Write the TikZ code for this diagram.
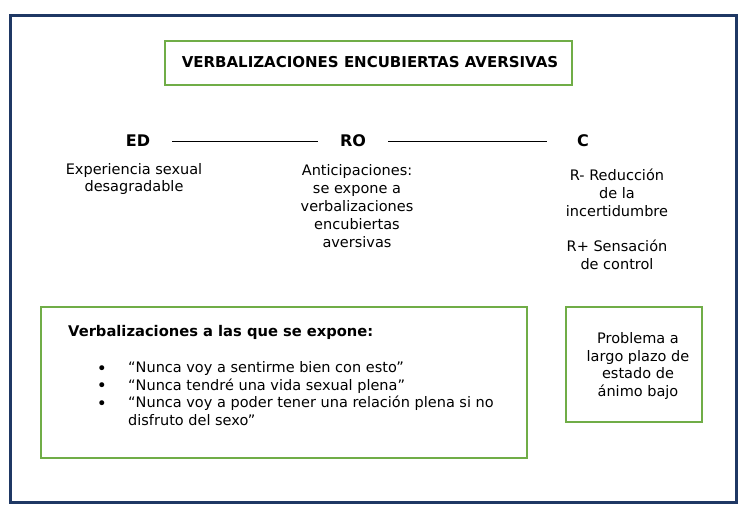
\documentclass[tikz,border=0pt]{standalone}
\usepackage{fontspec}
\setmainfont{DejaVu Sans}
\definecolor{framecol}{RGB}{31,56,100}
\definecolor{boxgreen}{RGB}{112,173,71}
\tikzset{
  txt/.style={font=\fontsize{14.5}{17.8}\selectfont, align=center, inner sep=0pt},
  lbl/.style={font=\bfseries\fontsize{16}{18}\selectfont, inner sep=0pt},
  gbox/.style={draw=boxgreen, line width=1.5pt},
  link/.style={draw=black, line width=0.9pt},
  bul/.style={inner sep=0pt, font=\fontsize{17}{18}\selectfont}
}
\begin{document}
\begin{tikzpicture}[x=1pt,y=-1pt]
\useasboundingbox (0,0) rectangle (745,516);
\fill[white] (0,0) rectangle (745,516);
% outer frame
\draw[framecol, line width=3pt] (10,16) rectangle (736,502);
% title box
\draw[gbox] (165,41) rectangle (572,85);
\node[font=\bfseries\fontsize{15}{17}\selectfont, inner sep=0pt] (title) at (370,62) {VERBALIZACIONES ENCUBIERTAS AVERSIVAS};
% ED RO C
\node[lbl] (ed) at (138,141) {ED};
\node[lbl] (ro) at (353,141) {RO};
\node[lbl] (c) at (583,141) {C};
\draw[link, shorten <=22pt, shorten >=22pt] (ed.east) -- (ro.west);
\draw[link, shorten <=22pt, shorten >=30pt] (ro.east) -- (c.west);
% descriptions
\node[txt] (edtxt) at (134,179) {Experiencia sexual\\desagradable};
\node[txt] (rotxt) at (357,206) {Anticipaciones:\\se expone a\\verbalizaciones\\encubiertas\\aversivas};
\node[txt] (ctxt1) at (617,193) {R- Reducción\\de la\\incertidumbre};
\node[txt] (ctxt2) at (617,255) {R+ Sensación\\de control};
% left box
\draw[gbox] (41,307) rectangle (527,458);
\node[font=\bfseries\fontsize{14.7}{17}\selectfont, inner sep=0pt, anchor=west] (head) at (68,332) {Verbalizaciones a las que se expone:};
\node[txt, align=left, anchor=north west] (list) at (128,361) {“Nunca voy a sentirme bien con esto”\\“Nunca tendré una vida sexual plena”\\“Nunca voy a poder tener una relación plena si no\\disfruto del sexo”};
\node[bul] (b1) at (102,370) {•};
\node[bul] (b2) at (102,387.5) {•};
\node[bul] (b3) at (102,405.5) {•};
% right box
\draw[gbox] (566,307) rectangle (702,422);
\node[txt] (prob) at (638,366) {Problema a\\largo plazo de\\estado de\\ánimo bajo};
\end{tikzpicture}
\end{document}
